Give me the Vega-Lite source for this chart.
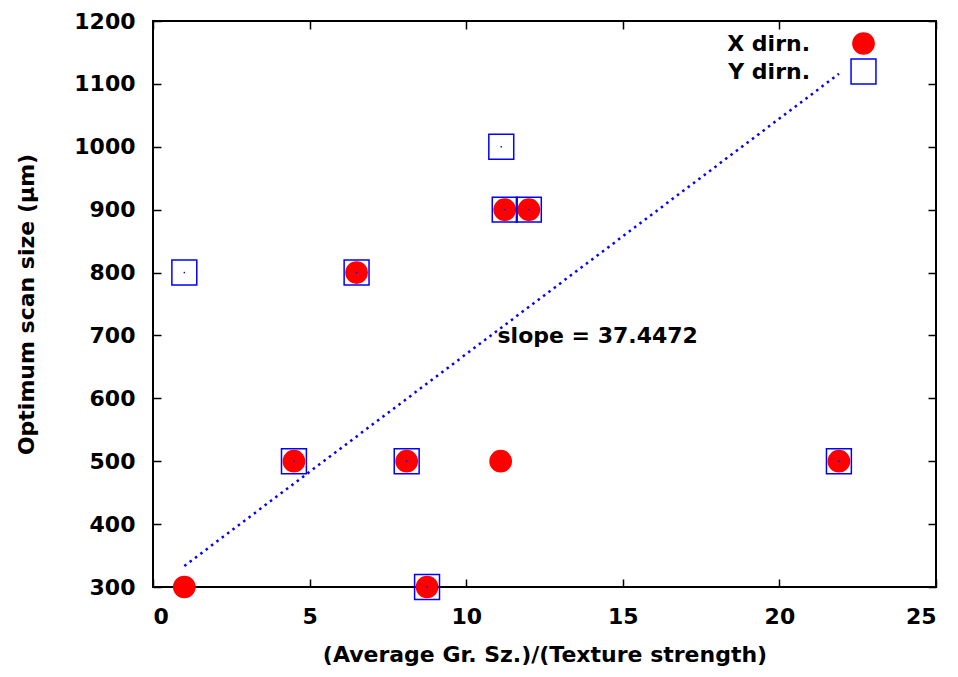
{
  "$schema": "https://vega.github.io/schema/vega-lite/v6.json",
  "width": 783,
  "height": 566,
  "autosize": {"type": "none"},
  "padding": {"left": 153, "top": 21, "right": 22, "bottom": 90},
  "background": "white",
  "config": {
    "view": {"stroke": "black", "strokeWidth": 2},
    "font": "DejaVu Sans",
    "axis": {
      "grid": false,
      "domain": false,
      "tickColor": "black",
      "tickWidth": 1.5,
      "tickSize": -8,
      "labelFont": "DejaVu Sans",
      "labelFontWeight": "bold",
      "labelFontSize": 22,
      "labelColor": "black",
      "titleFont": "DejaVu Sans",
      "titleFontWeight": "bold",
      "titleFontSize": 22,
      "titleColor": "black"
    }
  },
  "datasets": {
    "pts": [
      {"x": 1.0, "y": 300, "dir": "X dirn."},
      {"x": 4.5, "y": 500, "dir": "X dirn."},
      {"x": 8.1, "y": 500, "dir": "X dirn."},
      {"x": 8.75, "y": 300, "dir": "X dirn."},
      {"x": 6.5, "y": 800, "dir": "X dirn."},
      {"x": 11.23, "y": 900, "dir": "X dirn."},
      {"x": 12.0, "y": 900, "dir": "X dirn."},
      {"x": 11.1, "y": 500, "dir": "X dirn."},
      {"x": 21.9, "y": 500, "dir": "X dirn."},
      {"x": 1.0, "y": 800, "dir": "Y dirn."},
      {"x": 4.5, "y": 500, "dir": "Y dirn."},
      {"x": 8.1, "y": 500, "dir": "Y dirn."},
      {"x": 8.75, "y": 300, "dir": "Y dirn."},
      {"x": 6.5, "y": 800, "dir": "Y dirn."},
      {"x": 11.12, "y": 1000, "dir": "Y dirn."},
      {"x": 11.23, "y": 900, "dir": "Y dirn."},
      {"x": 12.0, "y": 900, "dir": "Y dirn."},
      {"x": 21.9, "y": 500, "dir": "Y dirn."}
    ],
    "fit": [
      {"x": 1.0, "y": 333.4},
      {"x": 21.9, "y": 1116.0}
    ]
  },
  "resolve": {"axis": {"x": "independent", "y": "independent"}},
  "layer": [
    {
      "data": {"name": "fit"},
      "mark": {"type": "line", "color": "#0000ff", "strokeWidth": 2.5, "strokeDash": [2.5, 4.2], "strokeCap": "butt", "clip": true},
      "encoding": {
        "x": {"field": "x", "type": "quantitative", "scale": {"domain": [0, 25], "nice": false, "zero": false},
          "axis": {"orient": "bottom", "values": [0, 5, 10, 15, 20, 25], "title": "(Average Gr. Sz.)/(Texture strength)", "labelPadding": 27, "titlePadding": 17}},
        "y": {"field": "y", "type": "quantitative", "scale": {"domain": [300, 1200], "nice": false, "zero": false},
          "axis": {"orient": "left", "values": [300, 400, 500, 600, 700, 800, 900, 1000, 1100, 1200], "format": "d", "title": "Optimum scan size (μm)", "labelPadding": 26, "titlePadding": 35}}
      }
    },
    {
      "data": {"name": "pts"},
      "mark": {"type": "point", "filled": false, "strokeWidth": 1.5, "opacity": 1},
      "encoding": {
        "x": {"field": "x", "type": "quantitative",
          "axis": {"orient": "top", "values": [0, 5, 10, 15, 20, 25], "labels": false, "title": null}},
        "y": {"field": "y", "type": "quantitative",
          "axis": {"orient": "right", "values": [300, 400, 500, 600, 700, 800, 900, 1000, 1100, 1200], "labels": false, "title": null}},
        "fill": {"field": "dir", "type": "nominal", "scale": {"domain": ["X dirn.", "Y dirn."], "range": ["#ff0000", "transparent"]}, "legend": null},
        "stroke": {"field": "dir", "type": "nominal", "scale": {"domain": ["X dirn.", "Y dirn."], "range": ["#ff0000", "#0000ff"]}, "legend": null},
        "shape": {"field": "dir", "type": "nominal", "scale": {"domain": ["X dirn.", "Y dirn."], "range": ["circle", "square"]}, "legend": null},
        "size": {"field": "dir", "type": "nominal", "scale": {"domain": ["X dirn.", "Y dirn."], "range": [450, 620]},
          "legend": {
            "title": null, "orient": "none", "legendX": 697, "legendY": 11,
            "labelFont": "DejaVu Sans", "labelFontWeight": "bold", "labelFontSize": 22, "labelColor": "black",
            "labelAlign": "right", "labelOffset": -67, "rowPadding": -3, "symbolStrokeWidth": 1.5
          }}
      }
    },
    {
      "data": {"name": "pts"},
      "transform": [{"filter": "datum.dir === 'Y dirn.'"}],
      "mark": {"type": "square", "size": 2, "color": "#0000ff", "filled": true, "opacity": 1},
      "encoding": {
        "x": {"field": "x", "type": "quantitative", "axis": null},
        "y": {"field": "y", "type": "quantitative", "axis": null}
      }
    },
    {
      "data": {"values": [{}]},
      "mark": {"type": "text", "align": "left", "baseline": "middle", "font": "DejaVu Sans", "fontWeight": "bold", "fontSize": 22, "color": "black"},
      "encoding": {
        "x": {"datum": 11.0, "type": "quantitative", "axis": null},
        "y": {"datum": 699, "type": "quantitative", "axis": null},
        "text": {"value": "slope = 37.4472"}
      }
    }
  ]
}
